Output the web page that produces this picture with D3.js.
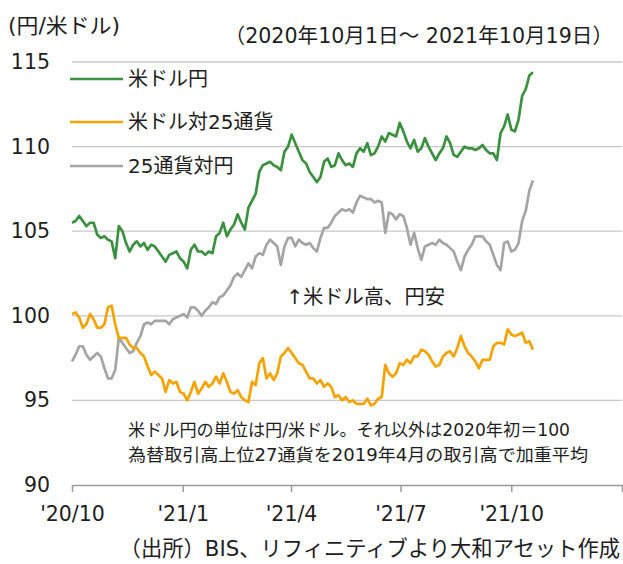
<!DOCTYPE html>
<html>
<head>
<meta charset="utf-8">
<script src="https://cdn.jsdelivr.net/npm/d3@7"></script>
<style>
  html, body { margin: 0; padding: 0; background: #fff; }
  svg text { font-family: "DejaVu Sans", "Noto Sans CJK JP", sans-serif; fill: #1e1e1e; }
</style>
</head>
<body>
<div id="chart"></div>
<script>
// observation window (readings about every 3 days between these dates)
var dataStart = new Date(2020, 9, 1);
var dataEnd = new Date(2021, 9, 19);

// 米ドル円 (円/米ドル)
var usdJpy = [
  105.5, 105.6, 105.9, 105.6, 105.3, 105.5, 105.5, 104.8, 104.6, 104.7,
  104.5, 104.4, 103.4, 105.3, 105.0, 104.3, 103.8, 104.2, 104.4, 104.1,
  104.3, 103.9, 104.2, 104.1, 103.8, 103.5, 103.2, 103.6, 103.7, 103.8,
  103.4, 103.2, 102.8, 103.9, 104.2, 103.8, 103.8, 103.6, 103.8, 103.7,
  104.7, 104.9, 105.5, 104.7, 105.1, 105.4, 106.0, 105.5, 105.1, 106.4,
  106.8, 107.2, 108.5, 108.9, 109.0, 109.1, 108.9, 108.8, 108.6, 109.7,
  110.0, 110.7, 110.2, 109.7, 109.2, 109.0, 108.5, 108.2, 107.9, 108.2,
  109.1, 109.3, 108.8, 108.9, 109.6, 109.2, 108.9, 109.0, 108.8, 109.6,
  109.9, 109.7, 110.2, 109.5, 109.6, 110.0, 110.6, 110.3, 110.8, 110.7,
  110.6, 111.4, 110.9, 110.3, 109.9, 110.4, 109.7, 109.9, 110.5, 110.0,
  109.6, 109.2, 109.6, 109.9, 110.6, 110.2, 109.5, 109.4, 109.7, 110.0,
  109.9, 109.9, 109.8, 109.9, 110.1, 109.8, 109.6, 109.6, 109.2, 110.8,
  111.2, 111.9, 111.0, 110.9, 111.6, 113.0, 113.4, 114.2, 114.4
];

// 米ドル対25通貨 (2020年初=100)
var usdVs25 = [
  100.1, 100.2, 99.9, 99.3, 99.5, 100.1, 99.8, 99.3, 99.3, 99.5,
  100.5, 100.6, 99.5, 98.7, 98.7, 98.7, 98.3, 98.1, 98.1, 97.8,
  97.6, 97.0, 96.5, 96.7, 96.5, 96.3, 95.5, 96.2, 96.0, 96.1,
  95.5, 95.4, 95.0, 95.5, 96.1, 95.4, 95.7, 96.1, 95.8, 96.0,
  96.4, 96.0, 96.6, 96.1, 95.5, 95.4, 95.6, 95.2, 95.0, 94.9,
  96.1, 95.9, 97.2, 97.5, 96.3, 96.6, 96.2, 96.6, 97.6, 97.8,
  98.1, 97.8, 97.5, 97.2, 97.1, 96.7, 96.3, 96.3, 96.0, 96.2,
  95.8, 96.0, 95.8, 95.2, 95.3, 95.0, 95.2, 94.9, 95.0, 94.8,
  94.8, 94.8, 95.1, 94.7, 94.8, 95.1, 95.2, 97.1, 96.6, 96.4,
  96.6, 97.2, 97.1, 97.4, 97.2, 97.6, 97.6, 98.0, 97.9, 97.7,
  97.3, 97.0, 97.1, 97.6, 97.8, 97.9, 97.6, 98.1, 98.8, 98.2,
  97.8, 97.6, 97.3, 96.9, 97.4, 97.4, 97.4, 98.2, 98.4, 98.4,
  98.3, 99.2, 98.9, 98.8, 98.9, 99.0, 98.4, 98.5, 98.0
];

// 25通貨対円 (2020年初=100)
var cur25Jpy = [
  97.3, 97.7, 98.2, 98.2, 97.7, 97.4, 97.6, 97.8, 97.6, 96.9,
  96.3, 96.3, 96.8, 98.7, 98.4, 98.1, 97.8, 97.9, 98.4, 98.8,
  99.5, 99.6, 99.5, 99.7, 99.7, 99.7, 99.7, 99.5, 99.8, 99.9,
  100.0, 100.1, 99.9, 100.5, 100.5, 100.3, 100.0, 100.3, 100.5, 100.8,
  100.7, 101.1, 101.2, 101.5, 101.8, 102.3, 102.5, 102.3, 102.7, 103.1,
  102.8, 103.5, 103.7, 103.6, 104.2, 104.5, 104.3, 104.1, 103.0, 104.1,
  104.6, 104.6, 104.1, 104.5, 104.3, 104.2, 104.3, 104.0, 103.8, 104.6,
  105.2, 105.2, 105.5, 105.9, 106.1, 106.3, 106.2, 106.3, 106.1, 106.7,
  107.1, 107.0, 106.9, 106.9, 106.7, 106.8, 106.7, 104.9, 106.1, 106.0,
  105.7, 106.0, 105.9, 105.2, 104.2, 104.9, 104.0, 103.3, 104.1, 104.2,
  104.3, 104.2, 104.5, 104.3, 104.2, 104.0, 103.8, 103.2, 102.7, 103.5,
  103.9, 104.2, 104.7, 104.7, 104.7, 104.4, 104.2, 103.6, 103.0, 102.7,
  104.3, 104.4, 103.8, 103.9, 104.3, 105.6, 106.2, 107.4, 108.0
];

var seriesNames = ["米ドル円", "米ドル対25通貨", "25通貨対円"];
var seriesColors = ["#3c9140", "#f5a300", "#a5a5a5"];
var yTicks = [90, 95, 100, 105, 110, 115];
var xTickDates = [
  new Date(2020, 9, 1), new Date(2021, 0, 1), new Date(2021, 3, 1),
  new Date(2021, 6, 1), new Date(2021, 9, 1), new Date(2022, 0, 1)
];

var width = 623, height = 564;
var plot = { left: 72, right: 622, top: 62, bottom: 485 };

var n = usdJpy.length;
var stepMs = (dataEnd - dataStart) / (n - 1);
var dates = d3.range(n).map(function (i) {
  return new Date(dataStart.getTime() + i * stepMs);
});

var x = d3.scaleTime()
  .domain([xTickDates[0], xTickDates[xTickDates.length - 1]])
  .range([plot.left, plot.right]);

var y = d3.scaleLinear()
  .domain([90, 115])
  .range([plot.bottom, plot.top]);

var svg = d3.select("#chart").append("svg")
  .attr("width", width)
  .attr("height", height);

// gridlines
svg.append("g").selectAll("line")
  .data(yTicks.filter(function (d) { return d > 90; }))
  .enter().append("line")
  .attr("x1", plot.left)
  .attr("x2", plot.right)
  .attr("y1", function (d) { return y(d); })
  .attr("y2", function (d) { return y(d); })
  .attr("stroke", "#c8c8c8")
  .attr("stroke-width", 1.3);

// y labels
var yAxis = svg.append("g")
  .attr("transform", "translate(50,0)")
  .call(d3.axisLeft(y).tickValues(yTicks).tickSize(0).tickPadding(0));
yAxis.select(".domain").remove();
yAxis.selectAll("text")
  .style("font-size", "20.5px")
  .attr("fill", "#1e1e1e");

// x axis
var xAxis = svg.append("g")
  .attr("transform", "translate(0," + plot.bottom + ")")
  .call(d3.axisBottom(x)
    .tickValues(xTickDates)
    .tickSize(7)
    .tickSizeOuter(0)
    .tickPadding(14)
    .tickFormat(function (d, i) {
      if (i === xTickDates.length - 1) return "";
      return "'" + d3.timeFormat("%y")(d) + "/" + (d.getMonth() + 1);
    }));
xAxis.select(".domain")
  .attr("stroke", "#9a9a9a")
  .attr("stroke-width", 1.5);
xAxis.selectAll(".tick line")
  .attr("stroke", "#9a9a9a")
  .attr("stroke-width", 1.5);
xAxis.selectAll("text")
  .style("font-size", "20.5px")
  .attr("fill", "#1e1e1e");

// lines
var line = d3.line()
  .x(function (d) { return x(d.date); })
  .y(function (d) { return y(d.value); });

var allSeries = [usdJpy, usdVs25, cur25Jpy];
// draw gray first, then orange, then green on top
[2, 1, 0].forEach(function (k) {
  var pts = allSeries[k].map(function (v, i) { return { date: dates[i], value: v }; });
  svg.append("path")
    .datum(pts)
    .attr("fill", "none")
    .attr("stroke", seriesColors[k])
    .attr("stroke-width", 2.7)
    .attr("stroke-linejoin", "round")
    .attr("d", line);
});

// legend
var legendY = [79, 122, 166];
var legend = svg.append("g").selectAll("g")
  .data(seriesNames)
  .enter().append("g")
  .attr("transform", function (d, i) { return "translate(70," + legendY[i] + ")"; });
legend.append("line")
  .attr("x1", 0).attr("x2", 53)
  .attr("stroke", function (d, i) { return seriesColors[i]; })
  .attr("stroke-width", 2.7);
legend.append("text")
  .attr("x", 58)
  .attr("dy", "0.35em")
  .style("font-size", "20px")
  .text(function (d) { return d; });

// texts
svg.append("text")
  .attr("x", 8).attr("y", 26).attr("dy", "0.35em")
  .attr("textLength", 112)
  .attr("lengthAdjust", "spacingAndGlyphs")
  .style("font-size", "21px")
  .text("(円/米ドル)");

svg.append("text")
  .attr("x", 613).attr("y", 36).attr("dy", "0.35em")
  .attr("text-anchor", "end")
  .style("font-size", "20.6px")
  .text("（2020年10月1日～ 2021年10月19日）");

svg.append("text")
  .attr("x", 286).attr("y", 297).attr("dy", "0.35em")
  .style("font-size", "20.3px")
  .text("↑米ドル高、円安");

svg.append("text")
  .attr("x", 128).attr("y", 430).attr("dy", "0.35em")
  .attr("textLength", 442)
  .attr("lengthAdjust", "spacingAndGlyphs")
  .style("font-size", "17.5px")
  .text("米ドル円の単位は円/米ドル。それ以外は2020年初＝100");

svg.append("text")
  .attr("x", 128).attr("y", 455).attr("dy", "0.35em")
  .attr("textLength", 460)
  .attr("lengthAdjust", "spacingAndGlyphs")
  .style("font-size", "17.5px")
  .text("為替取引高上位27通貨を2019年4月の取引高で加重平均");

svg.append("text")
  .attr("x", 620).attr("y", 549).attr("dy", "0.35em")
  .attr("text-anchor", "end")
  .style("font-size", "21.3px")
  .text("（出所）BIS、リフィニティブより大和アセット作成");
</script>
</body>
</html>
